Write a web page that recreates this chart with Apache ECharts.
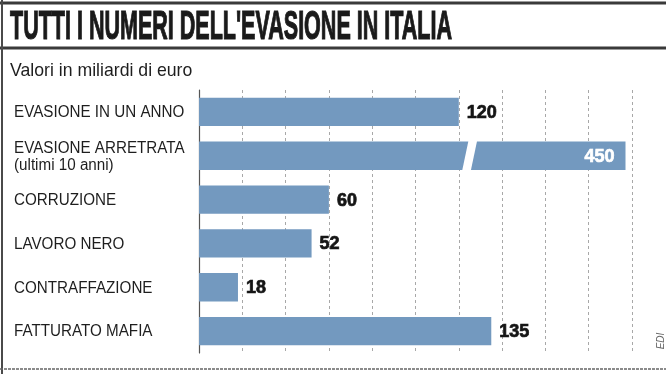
<!DOCTYPE html>
<html>
<head>
<meta charset="utf-8">
<script src="https://cdn.jsdelivr.net/npm/echarts@6/dist/echarts.min.js"></script>
<style>
html,body{margin:0;padding:0;background:#fff;}
#chart{width:666px;height:374px;}
</style>
</head>
<body>
<div id="chart"></div>
<script>
// ---- data ----
const titleText = "TUTTI I NUMERI DELL'EVASIONE IN ITALIA";
const subtitleText = "Valori in miliardi di euro";
const sourceText = "EDI";
const categories = [
  "EVASIONE IN UN ANNO",
  "EVASIONE ARRETRATA\n(ultimi 10 anni)",
  "CORRUZIONE",
  "LAVORO NERO",
  "CONTRAFFAZIONE",
  "FATTURATO MAFIA"
];
const values = [120, 450, 60, 52, 18, 135];
const axisMin = 0;
const axisMax = 200;
const axisStep = 20;
// visual break drawn inside bars longer than the axis
const breakStart = 123;   // value where the bar is cut
const breakGap = 4;       // gap width, in axis units
const breakEnd = 380;     // value where the bar resumes after the cut

// ---- chart ----
const chart = echarts.init(document.getElementById('chart'), null, {renderer: 'canvas'});
const barColor = '#7399bf';
const textDark = '#1e1e1e';

function shownValue(v) {
  if (v <= axisMax) return v;
  return breakStart + breakGap + (v - breakEnd);
}

const option = {
  animation: false,
  backgroundColor: '#ffffff',
  grid: {left: 199, right: 34, top: 90, bottom: 21, containLabel: false},
  xAxis: {
    type: 'value', min: axisMin, max: axisMax, interval: axisStep,
    axisLabel: {show: false}, axisTick: {show: false}, axisLine: {show: false},
    splitLine: {show: true, lineStyle: {color: '#a8a8a8', width: 1, type: [3, 3]}}
  },
  yAxis: {
    type: 'category', data: categories, inverse: true,
    axisLabel: {show: false}, axisTick: {show: false},
    axisLine: {show: true, lineStyle: {color: '#555', width: 1.2}},
    splitLine: {show: false}
  },
  graphic: [
    {type: 'line', shape: {x1: 0, y1: 3, x2: 666, y2: 3}, style: {stroke: '#3a3a3a', lineWidth: 3}},
    {type: 'line', shape: {x1: 0, y1: 48, x2: 666, y2: 48}, style: {stroke: '#3a3a3a', lineWidth: 3}},
    {type: 'line', shape: {x1: 2, y1: 0, x2: 2, y2: 374}, style: {stroke: '#4a4a4a', lineWidth: 2}},
    {type: 'line', shape: {x1: 0, y1: 369, x2: 666, y2: 369}, style: {stroke: '#666', lineWidth: 1.5, lineDash: [3, 1]}},
    {type: 'text', x: 10, y: 28, scaleX: 0.525, style: {
      text: titleText, font: 'bold 41px "Liberation Sans", Arial, sans-serif',
      fill: '#1a1a1a', stroke: '#1a1a1a', lineWidth: 1.2,
      textAlign: 'left', textVerticalAlign: 'middle', align: 'left', verticalAlign: 'middle'}},
    {type: 'text', x: 10, y: 71, scaleX: 0.93, style: {
      text: subtitleText, font: '19px "Liberation Sans", Arial, sans-serif',
      fill: textDark, textAlign: 'left', textVerticalAlign: 'middle', align: 'left', verticalAlign: 'middle'}},
    {type: 'text', x: 661, y: 341, rotation: Math.PI / 2, style: {
      text: sourceText, font: 'italic 10px "Liberation Sans", Arial, sans-serif',
      fill: '#666', textAlign: 'center', textVerticalAlign: 'middle', align: 'center', verticalAlign: 'middle'}}
  ],
  series: [{
    type: 'custom',
    coordinateSystem: 'cartesian2d',
    encode: {x: 0, y: 1},
    data: values.map((v, i) => [v, i]),
    renderItem: function (params, api) {
      const v = api.value(0);
      const ci = api.value(1);
      const base = api.coord([0, ci]);
      const x0 = base[0];
      const cy = base[1];
      const band = api.size([0, 1])[1];
      const h = band * 0.645;
      const top = cy - h / 2, bot = cy + h / 2;
      const xEnd = api.coord([shownValue(v), ci])[0];
      const children = [];
      if (v > axisMax) {
        const xa = api.coord([breakStart, ci])[0];
        const xb = api.coord([breakStart + breakGap, ci])[0];
        const s = 3;
        children.push({type: 'polygon', shape: {points: [[x0, top], [xa + s, top], [xa - s, bot], [x0, bot]]}, style: {fill: barColor}});
        children.push({type: 'polygon', shape: {points: [[xb + s, top], [xEnd, top], [xEnd, bot], [xb - s, bot]]}, style: {fill: barColor}});
        children.push({type: 'text', x: xEnd - 11, y: cy + 1, style: {
          text: String(v), font: 'bold 18px "Liberation Sans", Arial, sans-serif',
          fill: '#ffffff', stroke: '#ffffff', lineWidth: 0.7,
          textAlign: 'right', textVerticalAlign: 'middle', align: 'right', verticalAlign: 'middle'}});
      } else {
        children.push({type: 'rect', shape: {x: x0, y: top, width: xEnd - x0, height: h}, style: {fill: barColor}});
        children.push({type: 'text', x: xEnd + 8, y: cy + 1, style: {
          text: String(v), font: 'bold 18px "Liberation Sans", Arial, sans-serif',
          fill: '#151515', stroke: '#151515', lineWidth: 0.7,
          textAlign: 'left', textVerticalAlign: 'middle', align: 'left', verticalAlign: 'middle'}});
      }
      children.push({type: 'text', x: 14, y: cy + 1, scaleX: 0.95, style: {
        text: categories[ci], font: '16px "Liberation Sans", Arial, sans-serif', lineHeight: 17,
        fill: textDark, textAlign: 'left', textVerticalAlign: 'middle', align: 'left', verticalAlign: 'middle'}});
      return {type: 'group', children: children};
    }
  }]
};
chart.setOption(option);
</script>
</body>
</html>
